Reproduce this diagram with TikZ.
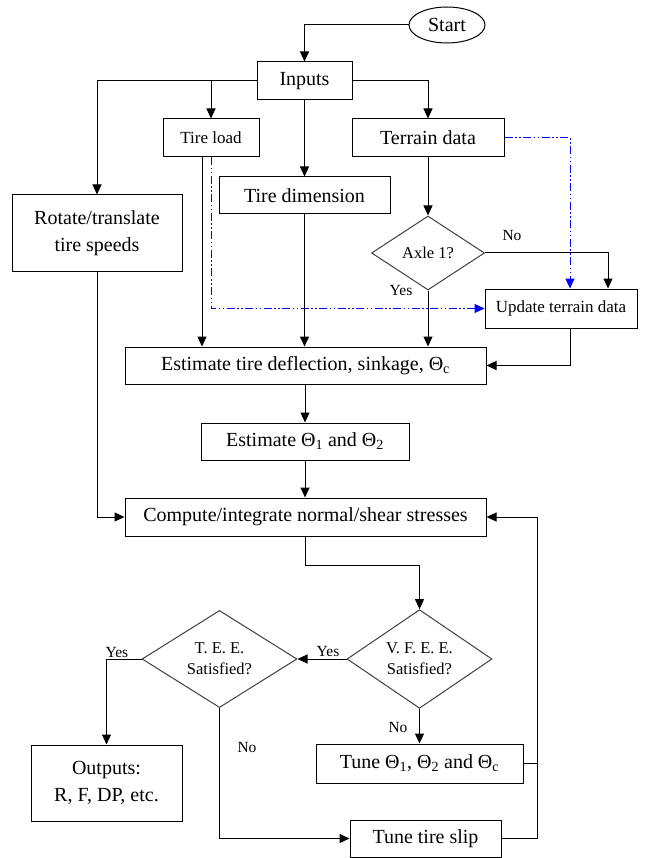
\documentclass[tikz,border=0pt]{standalone}
\usepackage{fontspec}
\setmainfont{Liberation Serif}
\usetikzlibrary{arrows.meta,shapes.geometric,calc}
\newcommand\fbig{\fontsize{20}{27}\selectfont}
\newcommand\fsmall{\fontsize{17}{20}\selectfont}
\newcommand\fdia{\fontsize{16.5}{21}\selectfont}
\newcommand\flbl{\fontsize{15.5}{20}\selectfont}
\begin{document}
\begin{tikzpicture}[x=1pt,y=-1pt,
  box/.style={draw=black, line width=1pt, inner sep=0pt, align=center, font=\fbig},
  sbox/.style={box, font=\fsmall},
  dia/.style={draw=black!75, line width=1pt, diamond, inner sep=0pt, align=center, font=\fdia},
  arr/.style={line width=1pt, -{Triangle[length=10pt,width=9pt]}},
  ln/.style={line width=1pt},
  barr/.style={blue, line width=1pt, dash pattern=on 8pt off 2.5pt on 1.5pt off 2.5pt on 1.5pt off 2.5pt, -{Triangle[length=10pt,width=9pt]}},
  lbl/.style={font=\flbl, inner sep=0pt}]
\useasboundingbox (0,0) rectangle (653,858);

\node[box, ellipse, minimum width=76pt, minimum height=36pt] (start) at (447,25) {Start};
\node[box, minimum width=95pt, minimum height=38pt] (inputs) at (304.5,81) {Inputs};
\node[sbox, minimum width=96pt, minimum height=38pt] (tireload) at (211,138) {Tire load};
\node[box, minimum width=152pt, minimum height=38pt] (terrain) at (428,138) {Terrain data};
\node[box, minimum width=171pt, minimum height=37pt] (tiredim) at (304.5,195.5) {Tire dimension};
\node[box, minimum width=170pt, minimum height=77pt] (rotate) at (97,233.5) {Rotate/translate\\tire speeds};
\node[dia, minimum width=113pt, minimum height=74pt] (axle) at (428,253) {Axle 1?};
\node[sbox, minimum width=152pt, minimum height=39pt] (update) at (561,308.5) {Update terrain data};
\node[box, minimum width=361pt, minimum height=37pt] (estdef) at (305.5,365.5) {Estimate tire deflection, sinkage, Θ\textsubscript{c}};
\node[box, minimum width=208pt, minimum height=37pt] (esttheta) at (305,441.5) {Estimate Θ\textsubscript{1} and Θ\textsubscript{2}};
\node[box, minimum width=361pt, minimum height=38pt] (compute) at (305.5,517) {Compute/integrate normal/shear stresses};
\node[dia, minimum width=145pt, minimum height=98pt] (vfee) at (419.5,659) {V. F. E. E.\\Satisfied?};
\node[dia, minimum width=155pt, minimum height=96pt] (tee) at (219.5,659) {T. E. E.\\Satisfied?};
\node[box, minimum width=151pt, minimum height=76pt] (outputs) at (106.5,783) {Outputs:\\R, F, DP, etc.};
\node[box, minimum width=207pt, minimum height=39pt] (tunetheta) at (419.5,763.5) {Tune Θ\textsubscript{1}, Θ\textsubscript{2} and Θ\textsubscript{c}};
\node[box, minimum width=151pt, minimum height=37pt] (slip) at (425.5,838.5) {Tune tire slip};

\coordinate (bx) at (570,0);
\coordinate (nx) at (608,0);
\coordinate (rx) at (537,0);
\coordinate (tlx) at (202,0);

\draw[arr] (start.west) -| (inputs.north);
\draw[arr] (inputs.west) -| (rotate.north);
\draw[arr] (tireload.north |- inputs.west) -- (tireload.north);
\draw[arr] (inputs.east) -| (terrain.north);
\draw[arr] (inputs.south) -- (tiredim.north);
\draw[arr] (terrain.south) -- (axle.north);
\draw[arr] (axle.east) -| (nx |- update.north);
\draw[arr] (axle.south) -- (axle.south |- estdef.north);
\draw[barr] (terrain.east) -| (bx |- update.north);
\draw[barr] (tireload.south) |- (update.west);
\draw[arr] (tlx |- tireload.south) -- (tlx |- estdef.north);
\draw[arr] (tiredim.south) -- (tiredim.south |- estdef.north);
\draw[arr] (bx |- update.south) |- (estdef.east);
\draw[arr] (esttheta.north |- estdef.south) -- (esttheta.north);
\draw[arr] (esttheta.south) -- (esttheta.south |- compute.north);
\draw[arr] (rotate.south) |- (compute.west);
\draw[arr] (compute.south) -- ++(0,29) -| (vfee.north);
\draw[arr] (vfee.west) -- (tee.east);
\draw[arr] (vfee.south) -- (tunetheta.north);
\draw[arr] (tee.west) -| (outputs.north);
\draw[arr] (tee.south) |- (slip.west);
\draw[arr] (slip.east) -| (rx |- compute.east) -- (compute.east);
\draw[ln] (tunetheta.east) -- (rx |- tunetheta.east);

\node[lbl] (axno) at (512,236) {No};
\node[lbl] (axyes) at (401,291) {Yes};
\node[lbl] (vyes) at (328,651) {Yes};
\node[lbl] (tyes) at (117,652) {Yes};
\node[lbl] (vno) at (398,727) {No};
\node[lbl] (tno) at (247,747) {No};
\end{tikzpicture}
\end{document}
